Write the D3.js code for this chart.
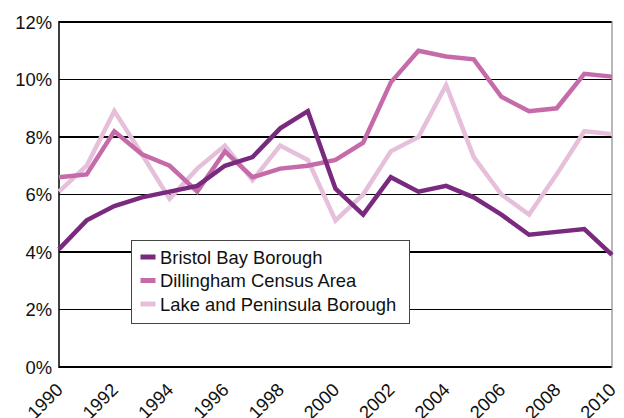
<!DOCTYPE html>
<html lang="en">
<head>
<meta charset="utf-8" />
<title>Unemployment rate</title>
<script src="https://cdn.jsdelivr.net/npm/d3@7"></script>
<style>
  body { margin: 0; background: #fff; }
  text { font-family: "Liberation Sans", Arial, sans-serif; fill: #111; }
</style>
</head>
<body>
<svg width="624" height="418"></svg>
<script>
// data
var years = d3.range(1990, 2011);
var seriesNames = ['Bristol Bay Borough', 'Dillingham Census Area', 'Lake and Peninsula Borough'];
var bristolBay = [4.1, 5.1, 5.6, 5.9, 6.1, 6.3, 7.0, 7.3, 8.3, 8.9, 6.2, 5.3, 6.6, 6.1, 6.3, 5.9, 5.3, 4.6, 4.7, 4.8, 3.9];
var dillingham = [6.6, 6.7, 8.2, 7.4, 7.0, 6.1, 7.5, 6.6, 6.9, 7.0, 7.2, 7.8, 9.9, 11.0, 10.8, 10.7, 9.4, 8.9, 9.0, 10.2, 10.1];
var lakePeninsula = [6.1, 7.0, 8.9, 7.4, 5.85, 6.9, 7.7, 6.5, 7.7, 7.2, 5.1, 6.0, 7.5, 8.0, 9.8, 7.3, 6.0, 5.3, 6.7, 8.2, 8.1];
var yTicks = [0, 2, 4, 6, 8, 10, 12];
var xTicks = d3.range(1990, 2011, 2);
var colors = ['#7a2a7e', '#c56ba9', '#e6bfda'];

var svg = d3.select('svg');
var plotLeft = 59, plotRight = 612, plotTop = 22, plotBottom = 367;

var x = d3.scaleLinear().domain([1990, 2010]).range([plotLeft, plotRight]);
var y = d3.scaleLinear().domain([0, 12]).range([plotBottom, plotTop]);

// gridlines
svg.append('g').selectAll('line')
    .data(yTicks)
    .enter()
    .append('line')
    .attr('x1', plotLeft).attr('x2', plotRight)
    .attr('y1', function(d) { return y(d); })
    .attr('y2', function(d) { return y(d); })
    .attr('stroke', '#000')
    .attr('stroke-width', function(d) { return (d === 0 || d === 12) ? 2.2 : (d % 4 === 0 ? 1.8 : 1.2); });

// frame: left axis black, right edge grey
svg.append('line').attr('x1', plotLeft).attr('x2', plotLeft).attr('y1', plotTop - 1).attr('y2', plotBottom + 1)
    .attr('stroke', '#000').attr('stroke-width', 1.5);
svg.append('line').attr('x1', plotRight).attr('x2', plotRight).attr('y1', plotTop - 1).attr('y2', plotBottom + 1)
    .attr('stroke', '#888').attr('stroke-width', 1.2);

// y labels
svg.append('g').selectAll('text')
    .data(yTicks)
    .enter()
    .append('text')
    .attr('x', plotLeft - 7)
    .attr('y', function(d) { return y(d); })
    .attr('dy', '0.36em')
    .attr('text-anchor', 'end')
    .style('font-size', '18.4px')
    .text(function(d) { return d + '%'; });

// x labels, rotated
svg.append('g').selectAll('text')
    .data(xTicks)
    .enter()
    .append('text')
    .attr('text-anchor', 'end')
    .attr('transform', function(d) { return 'translate(' + (x(d) + 5) + ',' + (plotBottom + 24) + ') rotate(-45)'; })
    .style('font-size', '18.4px')
    .text(function(d) { return d; });

// lines
var line = d3.line()
    .x(function(d, i) { return x(years[i]); })
    .y(function(d) { return y(d); });

var allSeries = [bristolBay, dillingham, lakePeninsula];
// draw lightest first so the dark line sits on top
[2, 1, 0].forEach(function(k) {
    svg.append('path')
        .datum(allSeries[k])
        .attr('d', line)
        .attr('fill', 'none')
        .attr('stroke', colors[k])
        .attr('stroke-width', 4.5)
        .attr('stroke-linejoin', 'miter');
});

// legend
var lg = svg.append('g').attr('transform', 'translate(131.5,240.5)');
lg.append('rect')
    .attr('width', 278).attr('height', 83)
    .attr('fill', '#fff')
    .attr('stroke', '#444')
    .attr('stroke-width', 1);

var items = lg.selectAll('g.item')
    .data(seriesNames)
    .enter()
    .append('g')
    .attr('class', 'item')
    .attr('transform', function(d, i) { return 'translate(0,' + (16.5 + i * 23.5) + ')'; });

items.append('line')
    .attr('x1', 9).attr('x2', 24)
    .attr('stroke', function(d, i) { return colors[i]; })
    .attr('stroke-width', 5);

items.append('text')
    .attr('x', 28.5)
    .attr('dy', '0.36em')
    .style('font-size', '18.4px')
    .text(function(d) { return d; });
</script>
</body>
</html>
